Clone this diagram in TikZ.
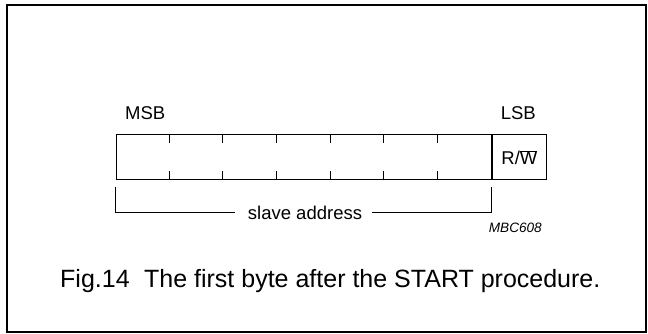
\documentclass[tikz,border=0pt]{standalone}
\usepackage{fontspec}
\setmainfont{Liberation Sans}
\begin{document}
\begin{tikzpicture}[x=1pt,y=-1pt,
	frame/.style={ draw, line width=1.6pt },
	bytebox/.style={ draw, line width=1.1pt, inner sep=0pt, anchor=north west },
	bitlabel/.style={ inner sep=0pt, font=\fontsize{18.5}{20}\selectfont },
	codelabel/.style={ inner sep=0pt, font=\fontsize{13.6}{15}\selectfont\itshape },
	captionlabel/.style={ inner sep=0pt, font=\fontsize{25}{27}\selectfont }
]

\useasboundingbox (0,0) rectangle (648,334);
\draw[frame] (7,5) rectangle (646,332);

\node at (115.7,134.3) (byte) [bytebox, minimum width=375.3pt, minimum height=44.7pt] {};
\node at (byte.north east) (rw) [bytebox, minimum width=53.5pt, minimum height=44.7pt] {};
\foreach \i in {1,...,6} {
	\draw[line width=1.1pt] ([xshift=\i*53.6pt]byte.north west) -- ++(0,9);
	\draw[line width=1.1pt] ([xshift=\i*53.6pt]byte.south west) -- ++(0,-9);
}
\node at (rw.center) [bitlabel, yshift=-0.5pt] {R/$\overline{\mbox{W}}$};

\node at (125,120) (msb) [bitlabel, anchor=base west] {MSB};
\node at (536,120) (lsb) [bitlabel, anchor=base east] {LSB};

\coordinate (sl) at (115.7,186.5);
\coordinate (sr) at (491,186.5);
\node at (305,219) (slave) [bitlabel, anchor=base] {slave address};
\draw[line width=1pt] (sl) |- ([xshift=-13pt]slave.west |- 0,212);
\draw[line width=1pt] ([xshift=10pt]slave.east |- 0,212) -| (sr);

\node at (542,232) (code) [codelabel, anchor=base east] {MBC608};
\node at (60,287) (caption) [captionlabel, anchor=base west] {Fig.14\hspace{0.3em} The first byte after the START procedure.};

\end{tikzpicture}
\end{document}
